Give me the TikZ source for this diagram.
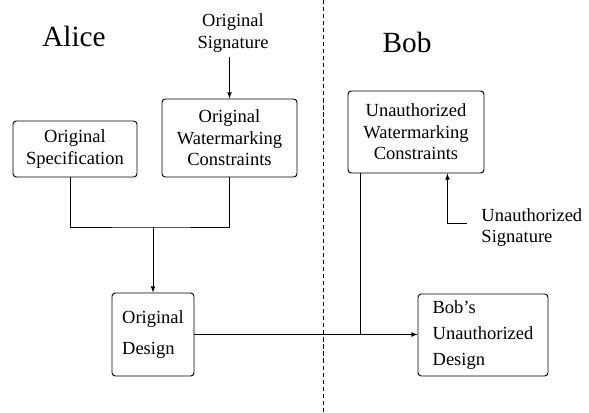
\documentclass[tikz,border=0pt]{standalone}
\usepackage{fontspec}
\setmainfont{Liberation Serif}
\usetikzlibrary{calc}

\tikzset{
  box/.style={draw, rounded corners=0.1cm, align=center},
  party/.style={font=\fontsize{25}{30}\selectfont},
  txt/.style={font=\fontsize{15.8}{19}\selectfont},
}

\begin{document}
\begin{tikzpicture}[line width=0.8pt, >=latex]
        \useasboundingbox (0,0) rectangle (17.67,-12.39);

        % the two parties and the divider
        \node[party] (alice) at (2.22,-1.08) {Alice};
        \node[party] (bob) at (12.21,-1.26) {Bob};
        \draw[line width=0.7pt, dash pattern=on 3.5pt off 2.5pt] (9.69,0) -- (9.69,-12.39);

        % Alice's side
        \node[txt, align=center] (origsig) at (6.99,-0.99) {Original\\Signature};
        \node[txt, box, minimum width=3.72cm, minimum height=1.68cm] (spec) at (2.25,-4.47)
            {Original\\Specification};
        \node[txt, box, minimum width=4.05cm, minimum height=2.34cm,
              font=\fontsize{15.8}{18.3}\selectfont] (wmorig) at (6.885,-4.14)
            {Original\\Watermarking\\Constraints};
        \node[txt, box, align=left, minimum width=2.46cm, minimum height=2.49cm,
              font=\fontsize{15.8}{26.4}\selectfont] (odesign) at (4.59,-10.035)
            {Original\\Design};
        \coordinate (merge) at (4.59,-6.81);

        \draw[->] (origsig.south -| wmorig.north) -- (wmorig.north);
        \draw ([xshift=-0.15cm]spec.south) |- (merge) -| (wmorig.south);
        \draw[->] (merge) -- (odesign.north);

        % Bob's side
        \node[txt, box, minimum width=4.08cm, minimum height=2.46cm,
              font=\fontsize{15.8}{18.3}\selectfont] (wmbob) at (12.48,-3.96)
            {Unauthorized\\Watermarking\\Constraints};
        \node[txt, box, align=left, minimum width=3.9cm, minimum height=2.46cm,
              font=\fontsize{15.8}{22.1}\selectfont] (bdesign) at (14.49,-10.05)
            {Bob's\\Unauthorized\\Design};
        \node[txt, align=left, anchor=west, inner sep=0pt,
              font=\fontsize{15.8}{18}\selectfont] (unsig) at (14.43,-6.825)
            {Unauthorized\\Signature};
        \coordinate (sigtail) at (14.01,-6.69);

        \draw[->] (sigtail) -| ([xshift=-1.11cm]wmbob.south east);
        \draw[->] (odesign.east) -- (odesign.east -| bdesign.west);
        \draw (wmbob.south west) ++(0.39,0) coordinate (tap) -- (tap |- odesign.east);
    \end{tikzpicture}
\end{document}
